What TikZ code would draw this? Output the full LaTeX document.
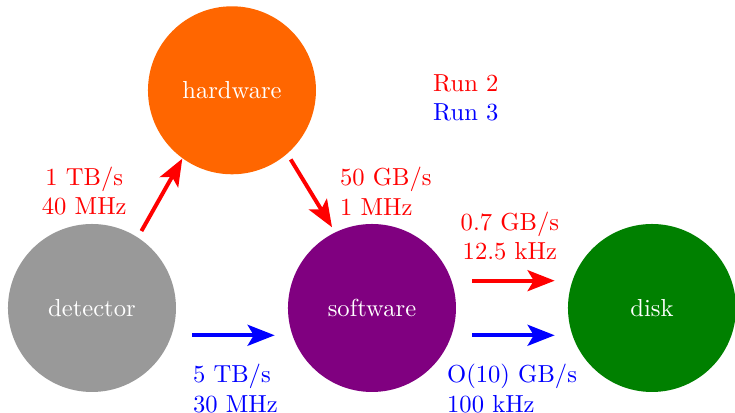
\documentclass[tikz,border=0pt]{standalone}
\usetikzlibrary{arrows.meta}

\definecolor{detGray}{HTML}{999999}
\definecolor{hwOrange}{HTML}{FF6600}
\definecolor{swPurple}{HTML}{800080}
\definecolor{diskGreen}{HTML}{008000}

\begin{document}
\begin{tikzpicture}[
    stage/.style={circle, minimum size=2.4cm, inner sep=0pt, text=white},
    flow/.style={ultra thick, -{Stealth[length=11pt, width=8.5pt, inset=2.5pt]}},
    rate/.style={align=left}
]
\useasboundingbox (-1.314,-1.5) rectangle (9.186,4.4);

% Dimensions
\def\dx{4}
\def\off{0.39}

% Stages
\node[stage, fill=detGray] (det) at (0,0) {detector};
\node[stage, fill=hwOrange] (hw) at (2,3.11) {hardware};
\node[stage, fill=swPurple] (sw) at (\dx,0) {software};
\node[stage, fill=diskGreen] (disk) at (2*\dx,0) {disk};

% Run 2 - red flow through the hardware trigger
\draw[flow, red, shorten <=0.1cm] (det.57) -- (hw.234);
\draw[flow, red, shorten <=0.09cm, shorten >=0.08cm] (hw.311) -- (sw.116);
\draw[flow, red, shorten <=1.43cm, shorten >=1.39cm]
    ([yshift=\off cm]sw.center) -- ([yshift=\off cm]disk.center);

% Run 3 - blue flow straight to software
\draw[flow, blue, shorten <=1.43cm, shorten >=1.39cm]
    ([yshift=-\off cm]det.center) -- ([yshift=-\off cm]sw.center);
\draw[flow, blue, shorten <=1.43cm, shorten >=1.39cm]
    ([yshift=-\off cm]sw.center) -- ([yshift=-\off cm]disk.center);

% Rates
\node[red, align=center] (r2in) at (-0.11,1.67) {1 TB/s\\40 MHz};
\node[rate, red, anchor=west] (r2hlt) at (3.42,1.67) {50 GB/s\\1 MHz};
\node[red, align=center] (r2out) at (5.97,1.03) {0.7 GB/s\\12.5 kHz};
\node[rate, blue, anchor=west] (r3in) at (1.32,-1.15) {5 TB/s\\30 MHz};
\node[rate, blue, anchor=west] (r3out) at (4.95,-1.15) {O(10) GB/s\\100 kHz};

% Legend
\node[align=center] (runs) at (5.34,3.0) {\textcolor{red}{Run 2}\\\textcolor{blue}{Run 3}};

\end{tikzpicture}
\end{document}
